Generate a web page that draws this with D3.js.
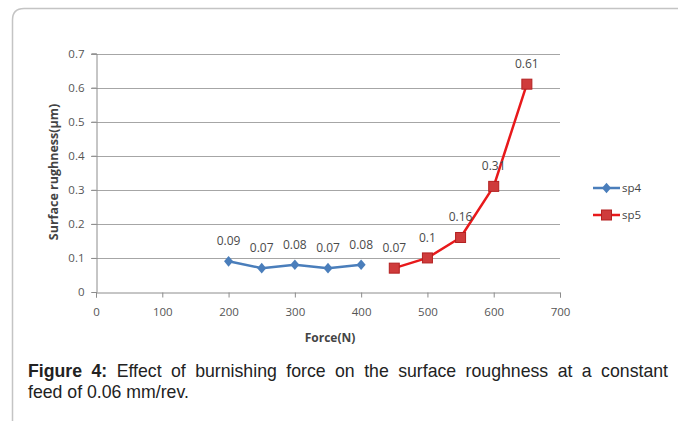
<!DOCTYPE html>
<html><head><meta charset="utf-8">
<script src="https://cdn.jsdelivr.net/npm/d3@7"></script>
<style>
html,body{margin:0;padding:0;background:#fff;}
svg{display:block;}
</style></head>
<body>
<svg id="c" width="678" height="421"></svg>
<script>
const forceSp4 = [200, 250, 300, 350, 400];
const roughSp4 = [0.09, 0.07, 0.08, 0.07, 0.08];
const forceSp5 = [450, 500, 550, 600, 650];
const roughSp5 = [0.07, 0.1, 0.16, 0.31, 0.61];
const labelsSp4 = ["0.09", "0.07", "0.08", "0.07", "0.08"];
const labelsSp5 = ["0.07", "0.1", "0.16", "0.31", "0.61"];
const xTicks = [0, 100, 200, 300, 400, 500, 600, 700];
const yTicks = [0, 0.1, 0.2, 0.3, 0.4, 0.5, 0.6, 0.7];
const seriesNames = ["sp4", "sp5"];

const svg = d3.select("#c");
const font = "'Open Sans', 'Noto Sans', sans-serif";

// frame
svg.append("path")
  .attr("d", "M12.5,421 L12.5,20 Q12.5,8.5 24,8.5 L678,8.5")
  .attr("fill", "none").attr("stroke", "#c4c4c4").attr("stroke-width", 1.5);

const x = d3.scaleLinear().domain([0, 700]).range([96, 560]);
const y = d3.scaleLinear().domain([0, 0.7]).range([292, 53.5]);

// gridlines
svg.append("g").selectAll("line").data(yTicks.slice(1)).join("line")
  .attr("x1", 91).attr("x2", x(700))
  .attr("y1", d => Math.round(y(d)) + 0.5).attr("y2", d => Math.round(y(d)) + 0.5)
  .attr("stroke", "#a6a6a6").attr("stroke-width", 1);

// y axis
const yAxis = d3.axisLeft(y).tickValues(yTicks).tickSize(5).tickPadding(7)
  .tickFormat(d => d === 0 ? "0" : d3.format(".1f")(d));
const gy = svg.append("g").attr("transform", "translate(96.5,0)").call(yAxis);
gy.select(".domain").attr("stroke", "#8c8c8c");
gy.selectAll(".tick line").attr("stroke", "#8c8c8c");
gy.selectAll(".tick text").attr("font-family", font).attr("font-size", 11.5).attr("fill", "#555");

// x axis
const xAxis = d3.axisBottom(x).tickValues(xTicks).tickSize(5).tickPadding(10).tickFormat(d3.format("d"));
const gx = svg.append("g").attr("transform", "translate(0,292.5)").call(xAxis);
gx.select(".domain").attr("stroke", "#8c8c8c");
gx.selectAll(".tick line").attr("stroke", "#8c8c8c");
gx.selectAll(".tick text").attr("font-family", font).attr("font-size", 11.5).attr("fill", "#555");

// axis titles
svg.append("text").attr("transform", "translate(58,172) rotate(-90)")
  .attr("text-anchor", "middle").attr("font-family", font).attr("font-weight", "bold")
  .attr("font-size", 12.5).attr("fill", "#444").text("Surface rughness(μm)");
svg.append("text").attr("x", 330).attr("y", 342)
  .attr("text-anchor", "middle").attr("font-family", font).attr("font-weight", "bold")
  .attr("font-size", 12).attr("fill", "#444").text("Force(N)");

const line = d3.line().x(d => x(d[0])).y(d => y(d[1]));
const d4 = forceSp4.map((f, i) => [f, roughSp4[i]]);
const d5 = forceSp5.map((f, i) => [f, roughSp5[i]]);

const blue = "#4a7ebb", red = "#e8191b", sqFill = "#cf3b3b", sqStroke = "#b32020";

function diamond(g, cx, cy) {
  g.append("path").attr("d", d3.symbol().type(d3.symbolDiamond).size(45)())
    .attr("transform", `translate(${cx},${cy}) scale(1.25,0.85)`).attr("fill", blue);
}
function square(g, cx, cy) {
  g.append("rect").attr("x", cx - 5).attr("y", cy - 5).attr("width", 10).attr("height", 10)
    .attr("fill", sqFill).attr("stroke", sqStroke).attr("stroke-width", 1);
}

svg.append("path").datum(d4).attr("d", line).attr("fill", "none")
  .attr("stroke", blue).attr("stroke-width", 2.5).attr("stroke-linejoin", "round");
const m4 = svg.append("g");
d4.forEach(d => diamond(m4, x(d[0]), y(d[1])));

svg.append("path").datum(d5).attr("d", line).attr("fill", "none")
  .attr("stroke", red).attr("stroke-width", 2.5).attr("stroke-linejoin", "round");
const m5 = svg.append("g");
d5.forEach(d => square(m5, x(d[0]), y(d[1])));

// data labels
const lab = svg.append("g").attr("font-family", font).attr("font-size", 12).attr("fill", "#4a4a4a")
  .attr("text-anchor", "middle");
d4.forEach((d, i) => lab.append("text").attr("x", x(d[0])).attr("y", y(d[1]) - 16).text(labelsSp4[i]));
d5.forEach((d, i) => lab.append("text").attr("x", x(d[0])).attr("y", y(d[1]) - 16).text(labelsSp5[i]));

// legend
const lg = svg.append("g");
const legY = [188, 215];
lg.append("line").attr("x1", 593).attr("x2", 620).attr("y1", legY[0]).attr("y2", legY[0])
  .attr("stroke", blue).attr("stroke-width", 2.5);
diamond(lg, 606.5, legY[0]);
lg.append("line").attr("x1", 593).attr("x2", 620).attr("y1", legY[1]).attr("y2", legY[1])
  .attr("stroke", red).attr("stroke-width", 2.5);
square(lg, 606.5, legY[1]);
seriesNames.forEach((n, i) => lg.append("text").attr("x", 622).attr("y", legY[i] + 4)
  .attr("font-family", font).attr("font-size", 11.5).attr("fill", "#444").text(n));

// caption
const cap = svg.append("g").attr("font-family", "'Liberation Sans', Arial, sans-serif").attr("font-size", 17.7).attr("fill", "#222");
const t1 = cap.append("text").attr("x", 28).attr("y", 377);
t1.append("tspan").attr("font-weight", "bold").text("Figure 4:");
t1.append("tspan").text(" Effect of burnishing force on the surface roughness at a constant");
const natural = t1.node().getComputedTextLength();
const spaces = 12;
t1.attr("word-spacing", Math.max(0, (640 - natural) / spaces));
cap.append("text").attr("x", 28).attr("y", 398).text("feed of 0.06 mm/rev.");
</script>
</body></html>
